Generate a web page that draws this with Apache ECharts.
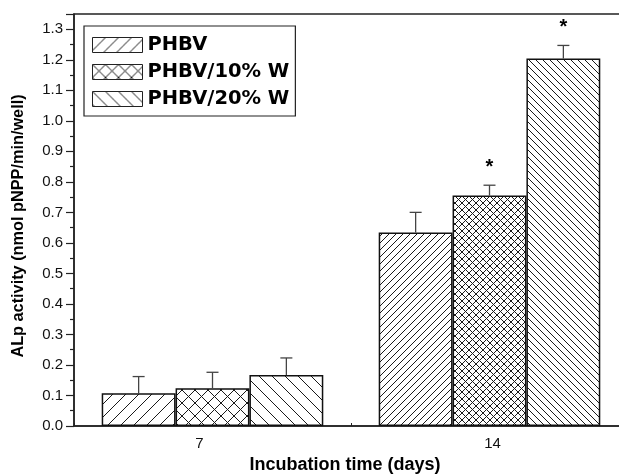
<!DOCTYPE html>
<html>
<head>
<meta charset="utf-8">
<script src="https://cdn.jsdelivr.net/npm/echarts@6/dist/echarts.min.js"></script>
<style>
html,body{margin:0;padding:0;background:#fff;}
#chart{width:619px;height:474px;}
</style>
</head>
<body>
<div id="chart"></div>
<script>
// ---- data ----
const categories = ['7', '14'];
const seriesNames = ['PHBV', 'PHBV/10% W', 'PHBV/20% W'];
const phbv      = [0.107, 0.634];
const phbv10    = [0.124, 0.755];
const phbv20    = [0.167, 1.204];
const phbvErr   = [0.055, 0.066];
const phbv10Err = [0.052, 0.034];
const phbv20Err = [0.056, 0.043];
const phbvSig   = ['', ''];
const phbv10Sig = ['', '*'];
const phbv20Sig = ['', '*'];
const yTicks = [0.0,0.1,0.2,0.3,0.4,0.5,0.6,0.7,0.8,0.9,1.0,1.1,1.2,1.3];

// ---- hatch patterns ----
function hatch(type, s) {
  const c = document.createElement('canvas');
  c.width = s; c.height = s;
  const g = c.getContext('2d');
  g.fillStyle = '#fff';
  g.fillRect(0, 0, s, s);
  g.strokeStyle = '#1a1a1a';
  g.lineWidth = 1;
  function fwd() { // "/"
    g.beginPath();
    g.moveTo(-1, s + 1); g.lineTo(s + 1, -1);
    g.moveTo(-1, 1); g.lineTo(1, -1);
    g.moveTo(s - 1, s + 1); g.lineTo(s + 1, s - 1);
    g.stroke();
  }
  function back() { // "\"
    g.beginPath();
    g.moveTo(-1, -1); g.lineTo(s + 1, s + 1);
    g.moveTo(s - 1, -1); g.lineTo(s + 1, 1);
    g.moveTo(-1, s - 1); g.lineTo(1, s + 1);
    g.stroke();
  }
  if (type === 'fwd') fwd();
  else if (type === 'back') back();
  else { fwd(); back(); }
  return { image: c, repeat: 'repeat' };
}
const types = ['fwd', 'cross', 'back'];
const values = [phbv, phbv10, phbv20];
const errs = [phbvErr, phbv10Err, phbv20Err];
const sigs = [phbvSig, phbv10Sig, phbv20Sig];

const barSeries = seriesNames.map((name, i) => ({
  name: name,
  type: 'bar',
  barGap: '0%',
  barCategoryGap: '20%',
  itemStyle: { color: hatch(types[i], 13), borderColor: '#111', borderWidth: 1.5 },
  data: values[i].map((v, j) => j === 0 ? v : { value: v, itemStyle: { color: hatch(types[i], 7) } })
}));

const errData = [];
values.forEach((arr, i) => arr.forEach((v, j) => errData.push([j, i, v, errs[i][j]])));
const errSig = [];
sigs.forEach((arr) => arr.forEach((s) => errSig.push(s)));

const errSeries = {
  type: 'custom',
  z: 5,
  encode: { x: 0, y: 2 },
  data: errData,
  renderItem: function (params, api) {
    const cat = api.value(0), si = api.value(1), v = api.value(2), e = api.value(3);
    const band = api.size([1, 0])[0];
    const bw = band * 0.8 / 3;
    const base = api.coord([cat, v]);
    const top = api.coord([cat, v + e]);
    const x = base[0] + (si - 1) * bw;
    const cap = 6;
    const children = [
      { type: 'line', shape: { x1: x, y1: base[1], x2: x, y2: top[1] }, style: { stroke: '#444', lineWidth: 1.3 } },
      { type: 'line', shape: { x1: x - cap, y1: top[1], x2: x + cap, y2: top[1] }, style: { stroke: '#444', lineWidth: 1.3 } }
    ];
    const s = errSig[params.dataIndex];
    if (s) {
      children.push({ type: 'text', x: x, y: top[1] - 18, style: { text: s, fill: '#000', font: 'bold 20px "Liberation Sans", Arial, sans-serif', align: 'center', verticalAlign: 'middle' } });
    }
    return { type: 'group', children: children };
  }
};

const chart = echarts.init(document.getElementById('chart'), null, { renderer: 'canvas' });
chart.setOption({
  animation: false,
  backgroundColor: '#fff',
  textStyle: { fontFamily: '"Liberation Sans", Arial, sans-serif' },
  grid: { left: 74, top: 14, width: 554, height: 412, outerBoundsMode: 'none', containLabel: false, show: true, borderColor: '#222', borderWidth: 1.5, backgroundColor: 'transparent' },
  legend: {
    data: seriesNames,
    orient: 'vertical',
    left: 84, top: 26,
    icon: 'rect',
    itemWidth: 50, itemHeight: 15, itemGap: 7,
    padding: [9, 6, 7, 8],
    borderColor: '#222', borderWidth: 1.2,
    textStyle: { fontSize: 19.5, fontWeight: 'bold', color: '#000', fontFamily: '"DejaVu Sans", sans-serif' },
    itemStyle: { borderWidth: 1, borderColor: '#222' }
  },
  xAxis: {
    type: 'category',
    data: categories,
    name: 'Incubation time (days)',
    nameLocation: 'middle',
    nameGap: 29,
    nameTextStyle: { fontSize: 18, fontWeight: 'bold', color: '#000', padding: [0, 12, 0, 0] },
    axisLine: { lineStyle: { color: '#222', width: 1.5 } },
    axisTick: { show: true, inside: true, length: 3, lineStyle: { color: '#222' } },
    axisLabel: {
      margin: 10,
      color: '#111',
      fontSize: 14,
      formatter: function (v) { return v === '7' ? '{a|' + v + '}' : '{b|' + v + '}'; },
      rich: { a: { fontSize: 15, color: '#111', padding: [0, 26, 0, 0] }, b: { fontSize: 15, color: '#111', padding: [0, 0, 0, 6] } }
    },
    splitLine: { show: false }
  },
  yAxis: {
    type: 'value',
    min: 0, max: 1.35, interval: 0.1,
    name: 'ALp activity (nmol pNPP/min/well)',
    nameLocation: 'middle',
    nameGap: 47,
    nameTextStyle: { fontSize: 16.3, fontWeight: 'bold', color: '#000', padding: [0, 12, 0, 0] },
    axisLine: { show: true, lineStyle: { color: '#222', width: 1.5 } },
    axisTick: { show: true, inside: false, length: 8, lineStyle: { color: '#222', width: 1.2 } },
    minorTick: { show: true, splitNumber: 2, length: 4, lineStyle: { color: '#222', width: 1.2 } },
    axisLabel: {
      margin: 11, color: '#111', fontSize: 15, showMaxLabel: false,
      formatter: function (v) {
        const t = yTicks.find(x => Math.abs(x - v) < 1e-6);
        return t === undefined ? '' : t.toFixed(1);
      }
    },
    splitLine: { show: false }
  },
  series: barSeries.concat([errSeries])
});
</script>
</body>
</html>
